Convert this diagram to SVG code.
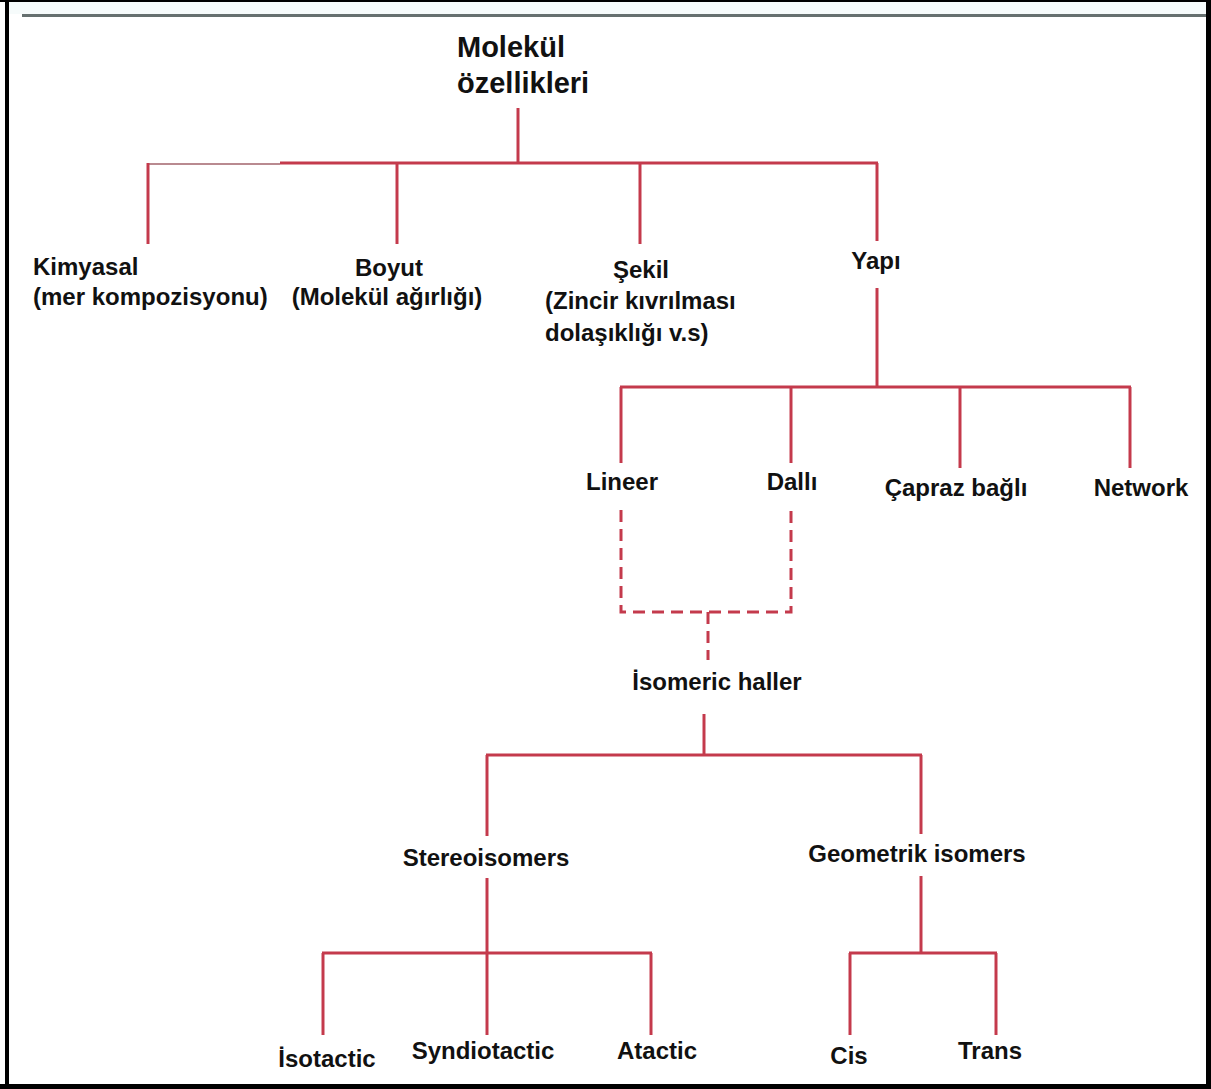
<svg xmlns="http://www.w3.org/2000/svg" width="1211" height="1089" viewBox="0 0 1211 1089">
  <style>
    .lbl { font-family: "Liberation Sans", Arial, sans-serif; font-weight: bold; font-size: 24px; fill: #111; }
    .ttl { font-family: "Liberation Sans", Arial, sans-serif; font-weight: bold; font-size: 29px; fill: #111; }
    .ln { stroke: #c43a4c; stroke-width: 3; fill: none; }
    .thin { stroke: #b98a90; stroke-width: 2; fill: none; }
    .dash { stroke: #c43a4c; stroke-width: 3; fill: none; stroke-dasharray: 12 7; }
  </style>

  <!-- page background and frame -->
  <rect x="0" y="0" width="1211" height="1089" fill="#ffffff"/>
  <rect x="0" y="0" width="1211" height="2" fill="#000"/>
  <rect x="5" y="0" width="4" height="1089" fill="#000"/>
  <rect x="1206" y="0" width="5" height="1089" fill="#000"/>
  <rect x="0" y="1084" width="1211" height="5" fill="#000"/>
  <rect x="9" y="2" width="1197" height="12" fill="#f6fbfb"/>
  <line x1="22" y1="15.5" x2="1206" y2="15.5" stroke="#66706f" stroke-width="3"/>

  <!-- connectors -->
  <g id="connectors">
    <line class="ln" x1="518" y1="108" x2="518" y2="163"/>
    <line class="thin" x1="148" y1="164" x2="280" y2="164"/>
    <line class="ln" x1="280" y1="163" x2="878" y2="163"/>
    <line class="ln" x1="148" y1="163" x2="148" y2="244"/>
    <line class="ln" x1="397" y1="163" x2="397" y2="244"/>
    <line class="ln" x1="640" y1="163" x2="640" y2="244"/>
    <line class="ln" x1="877" y1="163" x2="877" y2="241"/>

    <line class="ln" x1="877" y1="288" x2="877" y2="387"/>
    <line class="ln" x1="620" y1="387" x2="1131" y2="387"/>
    <line class="ln" x1="621" y1="387" x2="621" y2="463"/>
    <line class="ln" x1="791" y1="387" x2="791" y2="463"/>
    <line class="ln" x1="960" y1="387" x2="960" y2="468"/>
    <line class="ln" x1="1130" y1="387" x2="1130" y2="468"/>

    <path class="dash" d="M621 510 V612 H791 V510"/>
    <line class="dash" x1="708" y1="612" x2="708" y2="660"/>

    <line class="ln" x1="704" y1="714" x2="704" y2="755"/>
    <line class="ln" x1="486" y1="755" x2="922" y2="755"/>
    <line class="ln" x1="487" y1="755" x2="487" y2="836"/>
    <line class="ln" x1="921" y1="755" x2="921" y2="834"/>

    <line class="ln" x1="487" y1="878" x2="487" y2="953"/>
    <line class="ln" x1="322" y1="953" x2="652" y2="953"/>
    <line class="ln" x1="323" y1="953" x2="323" y2="1035"/>
    <line class="ln" x1="487" y1="953" x2="487" y2="1035"/>
    <line class="ln" x1="651" y1="953" x2="651" y2="1035"/>

    <line class="ln" x1="921" y1="876" x2="921" y2="953"/>
    <line class="ln" x1="849" y1="953" x2="997" y2="953"/>
    <line class="ln" x1="850" y1="953" x2="850" y2="1035"/>
    <line class="ln" x1="996" y1="953" x2="996" y2="1035"/>
  </g>

  <!-- nodes -->
  <g id="molekul-ozellikleri">
    <text class="ttl" x="457" y="57">Molekül</text>
    <text class="ttl" x="457" y="93">özellikleri</text>
  </g>
  <g id="kimyasal">
    <text class="lbl" x="33" y="275">Kimyasal</text>
    <text class="lbl" x="33" y="305">(mer kompozisyonu)</text>
  </g>
  <g id="boyut">
    <text class="lbl" x="389" y="276" text-anchor="middle">Boyut</text>
    <text class="lbl" x="387" y="305" text-anchor="middle">(Molekül ağırlığı)</text>
  </g>
  <g id="sekil">
    <text class="lbl" x="641" y="278" text-anchor="middle">Şekil</text>
    <text class="lbl" x="545" y="309">(Zincir kıvrılması</text>
    <text class="lbl" x="545" y="341">dolaşıklığı v.s)</text>
  </g>
  <g id="yapi">
    <text class="lbl" x="876" y="269" text-anchor="middle">Yapı</text>
  </g>
  <g id="lineer">
    <text class="lbl" x="622" y="490" text-anchor="middle">Lineer</text>
  </g>
  <g id="dalli">
    <text class="lbl" x="792" y="490" text-anchor="middle">Dallı</text>
  </g>
  <g id="capraz-bagli">
    <text class="lbl" x="956" y="496" text-anchor="middle">Çapraz bağlı</text>
  </g>
  <g id="network">
    <text class="lbl" x="1141" y="496" text-anchor="middle">Network</text>
  </g>
  <g id="isomeric-haller">
    <text class="lbl" x="717" y="690" text-anchor="middle">İsomeric haller</text>
  </g>
  <g id="stereoisomers">
    <text class="lbl" x="486" y="866" text-anchor="middle">Stereoisomers</text>
  </g>
  <g id="geometrik-isomers">
    <text class="lbl" x="917" y="862" text-anchor="middle">Geometrik isomers</text>
  </g>
  <g id="isotactic">
    <text class="lbl" x="327" y="1067" text-anchor="middle">İsotactic</text>
  </g>
  <g id="syndiotactic">
    <text class="lbl" x="483" y="1059" text-anchor="middle">Syndiotactic</text>
  </g>
  <g id="atactic">
    <text class="lbl" x="657" y="1059" text-anchor="middle">Atactic</text>
  </g>
  <g id="cis">
    <text class="lbl" x="849" y="1064" text-anchor="middle">Cis</text>
  </g>
  <g id="trans">
    <text class="lbl" x="990" y="1059" text-anchor="middle">Trans</text>
  </g>
</svg>
